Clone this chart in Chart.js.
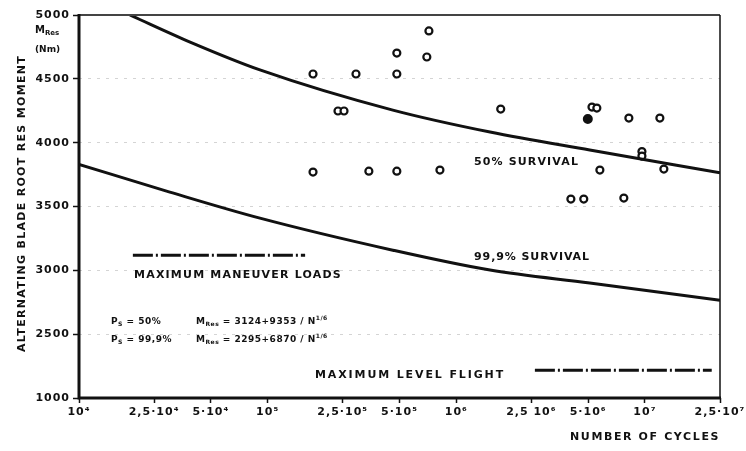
<!DOCTYPE html>
<html>
<head>
<meta charset="utf-8">
<script src="https://cdn.jsdelivr.net/npm/chart.js@4/dist/chart.umd.min.js"></script>
<style>
  html, body { margin: 0; padding: 0; background: #fff; }
  #wrap { width: 746px; height: 451px; }
</style>
</head>
<body>
<div id="wrap"><canvas id="fatigueChart" width="746" height="451"></canvas></div>
<script>
// Axis ticks (the moment axis is broken: its bottom tick "1000" sits one step below 2500)
const xTickValues = [1e4, 2.5e4, 5e4, 1e5, 2.5e5, 5e5, 1e6, 2.5e6, 5e6, 1e7, 2.5e7];
const xTickLabels = ['10⁴', '2,5·10⁴', '5·10⁴', '10⁵', '2,5·10⁵', '5·10⁵', '10⁶', '2,5 10⁶', '5·10⁶', '10⁷', '2,5·10⁷'];
const yTickValues = [2000, 2500, 3000, 3500, 4000, 4500, 5000];
const yTickLabels = ['1000', '2500', '3000', '3500', '4000', '4500', '5000'];

// S-N curves
const survival50N = [1.86e4, 3.88e4, 9.1e4, 4.61e5, 1.51e6, 5.1e6, 2.5e7];
const survival50M = [5000, 4788, 4570, 4255, 4083, 3942, 3765];
const survival999N = [1e4, 3.03e4, 9.1e4, 4.61e5, 1.51e6, 5.1e6, 2.5e7];
const survival999M = [3830, 3613, 3409, 3158, 3002, 2900, 2766];

// Test results (open circles)
const testN = [7.16e5, 4.84e5, 6.98e5, 1.74e5, 2.94e5, 4.84e5, 2.36e5, 2.54e5, 1.72e6, 5.24e6, 5.56e6, 8.22e6,
  1.2e7, 9.64e6, 9.64e6, 1.74e5, 3.44e5, 4.84e5, 8.19e5, 5.77e6, 1.26e7, 4.05e6, 4.74e6, 7.73e6];
const testM = [4875, 4702, 4671, 4538, 4538, 4538, 4248, 4248, 4263, 4279, 4271, 4193,
  4193, 3930, 3895, 3770, 3777, 3777, 3785, 3785, 3793, 3558, 3558, 3566];
// Filled circle
const filledN = [4.98e6];
const filledM = [4185];

// Load levels
const maneuverN = [1.93e4, 1.58e5];
const maneuverM = [3119, 3119];
const levelFlightN = [2.61e6, 2.26e7];
const levelFlightM = [2218, 2218];

const toPoints = (xs, ys) => xs.map((x, i) => ({ x: x, y: ys[i] }));

const INK = '#111';
const FONT = 'DejaVu Sans';

/**
 * Draws a text so that it fills a given width (letter spacing adjusted)
 */
function fitText(ctx, text, x, y, width) {
  ctx.letterSpacing = '0px';
  const w = ctx.measureText(text).width;
  const spacing = (width - w) / text.length;
  ctx.letterSpacing = spacing.toFixed(2) + 'px';
  ctx.fillText(text, x, y);
  ctx.letterSpacing = '0px';
}

/**
 * Draws runs of text with subscripts / superscripts, returns the end x
 */
function drawRuns(ctx, x, y, runs, size) {
  runs.forEach(run => {
    const s = run.sub || run.sup ? Math.round(size * 0.7) : size;
    const dy = run.sub ? size * 0.3 : (run.sup ? -size * 0.45 : 0);
    ctx.font = `bold ${s}px "${FONT}"`;
    ctx.fillText(run.t, x, y + dy);
    x += ctx.measureText(run.t).width;
  });
  return x;
}

const decorPlugin = {
  id: 'decor',
  beforeDraw(chart) {
    const ctx = chart.ctx;
    ctx.save();
    ctx.fillStyle = '#fff';
    ctx.fillRect(0, 0, chart.width, chart.height);
    ctx.restore();
    ctx.letterSpacing = '1px';
  },
  afterDatasetsDraw(chart) {
    const { ctx, chartArea: a } = chart;
    ctx.save();
    // top and right frame
    ctx.strokeStyle = '#444';
    ctx.lineWidth = 2;
    ctx.beginPath();
    ctx.moveTo(a.left, a.top);
    ctx.lineTo(a.right, a.top);
    ctx.stroke();
    ctx.strokeStyle = INK;
    ctx.lineWidth = 1.5;
    ctx.beginPath();
    ctx.moveTo(a.right, a.top);
    ctx.lineTo(a.right, a.bottom);
    ctx.stroke();
    // thick left and bottom axes
    ctx.lineWidth = 3;
    ctx.beginPath();
    ctx.moveTo(a.left, a.top - 1);
    ctx.lineTo(a.left, a.bottom);
    ctx.lineTo(a.right + 1, a.bottom);
    ctx.stroke();
    ctx.restore();
  },
  afterDraw(chart) {
    const { ctx } = chart;
    ctx.save();
    ctx.fillStyle = INK;
    ctx.textBaseline = 'middle';
    ctx.textAlign = 'left';

    // axis titles
    ctx.font = `bold 11px "${FONT}"`;
    ctx.save();
    ctx.translate(22, 352);
    ctx.rotate(-Math.PI / 2);
    fitText(ctx, 'ALTERNATING BLADE ROOT RES MOMENT', 0, 0, 297);
    ctx.restore();
    fitText(ctx, 'NUMBER OF CYCLES', 570, 437, 150);

    // unit label near the top of the y axis
    drawRuns(ctx, 35, 30, [{ t: 'M' }, { t: 'Res', sub: true }], 10);
    ctx.font = `bold 9px "${FONT}"`;
    ctx.fillText('(Nm)', 35, 50);

    // curve and load labels
    ctx.font = `bold 11px "${FONT}"`;
    fitText(ctx, '50% SURVIVAL', 474, 162, 105);
    fitText(ctx, '99,9% SURVIVAL', 474, 257, 116);
    fitText(ctx, 'MAXIMUM MANEUVER LOADS', 134, 275, 208);
    fitText(ctx, 'MAXIMUM LEVEL FLIGHT', 315, 375, 190);

    // formulas
    ctx.letterSpacing = '0.5px';
    drawRuns(ctx, 111, 322, [{ t: 'P' }, { t: 'S', sub: true }, { t: ' = 50%' }], 9);
    drawRuns(ctx, 111, 340, [{ t: 'P' }, { t: 'S', sub: true }, { t: ' = 99,9%' }], 9);
    drawRuns(ctx, 196, 322, [{ t: 'M' }, { t: 'Res', sub: true }, { t: ' = 3124+9353 / N' }, { t: '1/6', sup: true }], 9);
    drawRuns(ctx, 196, 340, [{ t: 'M' }, { t: 'Res', sub: true }, { t: ' = 2295+6870 / N' }, { t: '1/6', sup: true }], 9);
    ctx.restore();
  }
};

const ctx = document.getElementById('fatigueChart');

new Chart(ctx, {
  type: 'scatter',
  data: {
    datasets: [
      {
        label: '50% survival',
        type: 'line',
        data: toPoints(survival50N, survival50M),
        borderColor: INK,
        borderWidth: 3,
        pointRadius: 0,
        cubicInterpolationMode: 'monotone'
      },
      {
        label: '99,9% survival',
        type: 'line',
        data: toPoints(survival999N, survival999M),
        borderColor: INK,
        borderWidth: 3,
        pointRadius: 0,
        cubicInterpolationMode: 'monotone'
      },
      {
        label: 'Maximum maneuver loads',
        type: 'line',
        data: toPoints(maneuverN, maneuverM),
        borderColor: INK,
        borderWidth: 3,
        borderDash: [20, 3, 2, 3],
        pointRadius: 0
      },
      {
        label: 'Maximum level flight',
        type: 'line',
        data: toPoints(levelFlightN, levelFlightM),
        borderColor: INK,
        borderWidth: 3,
        borderDash: [20, 3, 2, 3],
        pointRadius: 0
      },
      {
        label: 'Tests',
        data: toPoints(testN, testM),
        pointStyle: 'circle',
        pointRadius: 3.5,
        borderWidth: 2.2,
        borderColor: INK,
        backgroundColor: '#fff'
      },
      {
        label: 'Tests (filled)',
        data: toPoints(filledN, filledM),
        pointStyle: 'circle',
        pointRadius: 4,
        borderWidth: 2,
        borderColor: INK,
        backgroundColor: INK
      }
    ]
  },
  options: {
    responsive: false,
    animation: false,
    layout: { padding: { left: 0, top: 15, right: 26, bottom: 0 } },
    plugins: {
      legend: { display: false },
      tooltip: { enabled: false }
    },
    scales: {
      x: {
        type: 'logarithmic',
        min: 1e4,
        max: 2.5e7,
        afterBuildTicks: scale => {
          scale.ticks = xTickValues.map(v => ({ value: v }));
        },
        afterFit: scale => { scale.height = 53; },
        grid: { drawOnChartArea: false, tickLength: 5, tickColor: INK, tickWidth: 1.5 },
        border: { display: false },
        ticks: {
          autoSkip: false,
          maxRotation: 0,
          padding: 3,
          color: INK,
          font: { family: FONT, size: 11, weight: 'bold' },
          callback: value => xTickLabels[xTickValues.indexOf(value)]
        }
      },
      y: {
        min: 2000,
        max: 5000,
        afterBuildTicks: scale => {
          scale.ticks = yTickValues.map(v => ({ value: v }));
        },
        afterFit: scale => { scale.width = 79; },
        grid: { color: '#d4d4d4', lineWidth: 1, tickLength: 6, tickColor: INK, tickWidth: 1.5 },
        border: { display: false, dash: [3, 6] },
        ticks: {
          padding: 3,
          color: INK,
          font: { family: FONT, size: 11, weight: 'bold' },
          callback: value => yTickLabels[yTickValues.indexOf(value)]
        }
      }
    }
  },
  plugins: [decorPlugin]
});
</script>
</body>
</html>
